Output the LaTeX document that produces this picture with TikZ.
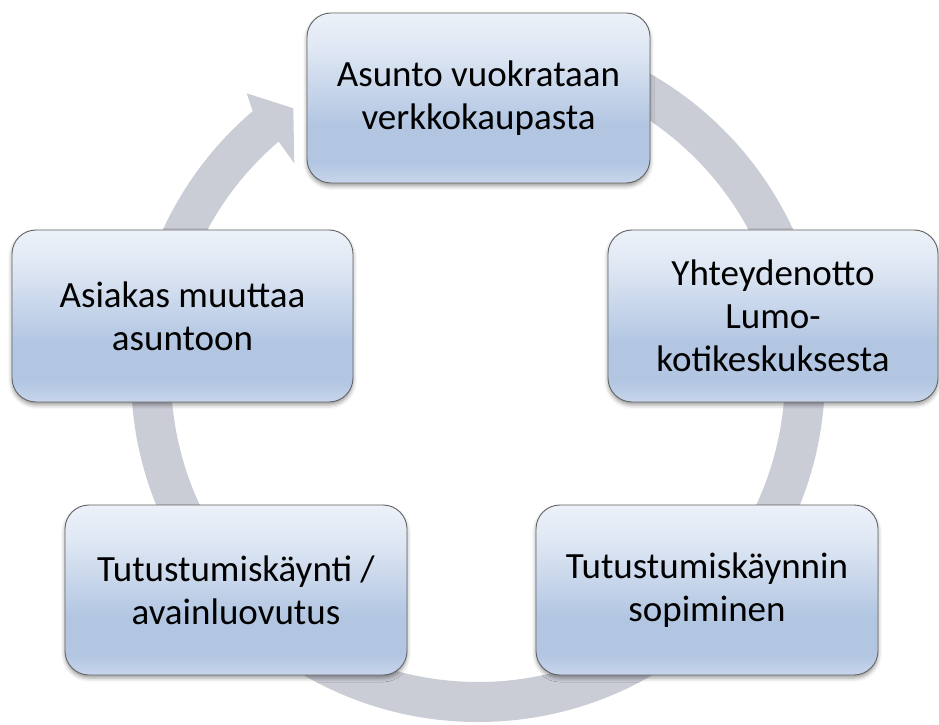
\documentclass[tikz,border=0pt]{standalone}
\usepackage{fontspec}
\setmainfont{Carlito}
\usetikzlibrary{calc,shadows.blur}
\definecolor{ringc}{RGB}{202,204,214}
\definecolor{bA}{RGB}{236,241,249}
\definecolor{bA2}{RGB}{224,232,244}
\definecolor{bB}{RGB}{178,198,226}
\definecolor{bC}{RGB}{200,214,235}
\definecolor{edgec}{RGB}{100,100,100}
\pgfdeclareverticalshading{boxshade}{100bp}{color(0bp)=(bC); color(25bp)=(bC); color(31bp)=(bB); color(42bp)=(bB); color(65bp)=(bA2); color(75bp)=(bA); color(100bp)=(bA)}
\begin{document}
\begin{tikzpicture}[x=1pt,y=1pt,
  stage/.style={rectangle, rounded corners=24pt, draw=edgec, line width=0.9pt,
    shading=boxshade, minimum height=170pt, align=center,
    font=\fontsize{37}{43}\selectfont, inner sep=0pt,
    blur shadow={shadow xshift=0pt, shadow yshift=-3pt, shadow blur radius=4pt, shadow opacity=40}}]
\useasboundingbox (0,0) rectangle (939,724);
\coordinate (C) at (478,349);
\coordinate (hOut) at (246.7,630.7);
\coordinate (hTip) at (293.3,615.7);
\coordinate (hTipB) at (294.3,560.7);
\fill[ringc] ($(C)+(90:347pt)$) arc[start angle=90,end angle=-229.5,radius=347pt]
  -- (hOut) -- (hTip) -- (hTipB) -- ($(C)+(130.5:307pt)$)
  arc[start angle=130.5,end angle=450,radius=307pt] -- cycle;
\node[stage, minimum width=343pt] (n1) at (478.5,626) {Asunto vuokrataan\\verkkokaupasta};
\node[stage, minimum width=330pt, minimum height=172pt] (n2) at (773,408) {Yhteydenotto\\Lumo-\\kotikeskuksesta};
\node[stage, minimum width=342pt] (n3) at (707,134) {Tutustumiskäynnin\\sopiminen};
\node[stage, minimum width=342pt] (n4) at (236,134) {Tutustumiskäynti /\\avainluovutus};
\node[stage, minimum width=341pt, minimum height=172pt] (n5) at (182.5,408) {Asiakas muuttaa\\asuntoon};
\end{tikzpicture}
\end{document}
